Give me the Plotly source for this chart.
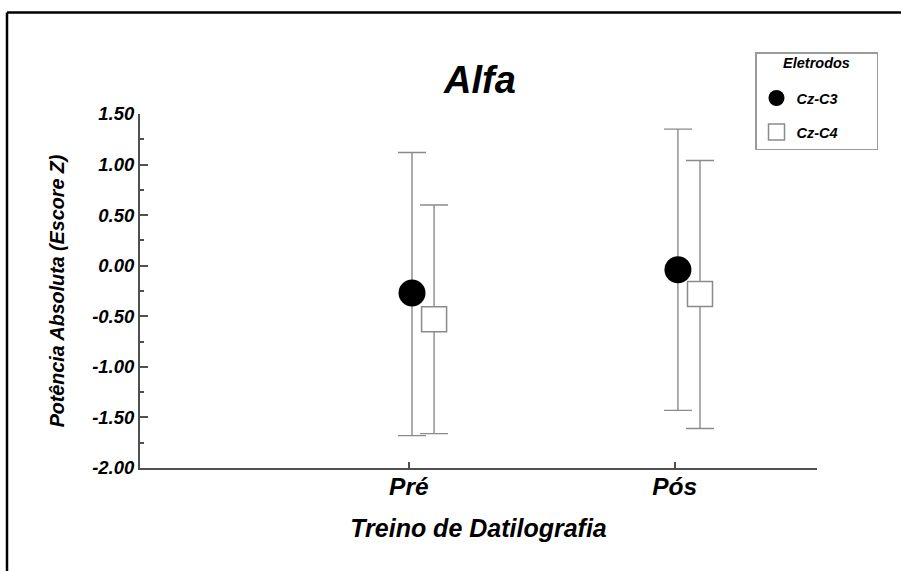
import plotly.graph_objects as go

# ---- data ----
categories = ["Pré", "Pós"]
series_names = ["Cz-C3", "Cz-C4"]
c3_mean = [-0.27, -0.04]
c3_upper = [1.12, 1.35]
c3_lower = [-1.68, -1.43]
c4_mean = [-0.53, -0.28]
c4_upper = [0.60, 1.04]
c4_lower = [-1.66, -1.61]
y_tick_vals = [1.5, 1.0, 0.5, 0.0, -0.5, -1.0, -1.5, -2.0]
y_tick_text = ["1.50", "1.00", "0.50", "0.00", "-0.50", "-1.00", "-1.50", "-2.00"]

W, H = 901, 571
ML, MR, MT, MB = 140, 84, 114, 103
FONT = "Liberation Sans, Arial, Helvetica, sans-serif"
GRAY = "#8a8a8a"
AXIS = "#505050"

cat_pos = [i + 1 for i in range(len(categories))]
off_c3, off_c4 = 0.012, 0.095

def err(mean, up, lo):
    return [u - m for m, u in zip(mean, up)], [m - l for m, l in zip(mean, lo)]

c3_plus, c3_minus = err(c3_mean, c3_upper, c3_lower)
c4_plus, c4_minus = err(c4_mean, c4_upper, c4_lower)

fig = go.Figure()
fig.add_trace(go.Scatter(
    x=[p + off_c3 for p in cat_pos], y=c3_mean, mode="markers", name=series_names[0],
    legendgroup="a",
    marker=dict(symbol="circle", size=27, color="black", line=dict(width=0)),
    error_y=dict(type="data", array=c3_plus, arrayminus=c3_minus, symmetric=False,
                 color=GRAY, thickness=1.4, width=14),
))
fig.add_trace(go.Scatter(
    x=[p + off_c4 for p in cat_pos], y=c4_mean, mode="markers", name=series_names[1],
    legendgroup="b",
    marker=dict(symbol="square", size=25, color="white", line=dict(width=1.5, color=GRAY)),
    error_y=dict(type="data", array=c4_plus, arrayminus=c4_minus, symmetric=False,
                 color=GRAY, thickness=1.4, width=14),
))

pw = W - ML - MR
ph = H - MT - MB
def px_x(p):
    return (p - ML) / pw
def px_y(p):
    return (H - MB - p) / ph

bi = dict(family=FONT, weight="bold", style="italic", color="black")
nb = "&nbsp;" * 8

frame = dict(color="black", width=2.5)

fig.update_layout(
    width=W, height=H,
    margin=dict(l=ML, r=MR, t=MT, b=MB),
    paper_bgcolor="white", plot_bgcolor="white",
    font=dict(family=FONT, color="black"),
    title=dict(text="Alfa", x=480 / W, xref="container", xanchor="center",
               y=1 - 80 / H, yref="container", yanchor="middle",
               font=dict(size=38, **bi)),
    showlegend=True,
    legend=dict(
        x=px_x(755), y=px_y(52), xanchor="left", yanchor="top",
        bordercolor="#9a9a9a", borderwidth=1.5, bgcolor="white",
        title=dict(text=nb + "<span style='font-size:14.5px'>Eletrodos</span>" + nb + "<br> ",
                   side="top center",
                   font=dict(size=11, **bi)),
        font=dict(size=14.5, **bi),
        tracegroupgap=12,
    ),
    xaxis=dict(
        range=[-0.011, 2.535], tickvals=cat_pos, ticktext=categories,
        ticks="inside", ticklen=6, tickwidth=1.5, tickcolor=AXIS,
        showline=True, linecolor=AXIS, linewidth=2,
        showgrid=False, zeroline=False, ticklabelstandoff=-4,
        tickfont=dict(size=24.5, **bi),
        title=dict(text="Treino de Datilografia", standoff=20,
                   font=dict(size=25, **bi)),
    ),
    yaxis=dict(
        range=[-2.0, 1.5], tickvals=y_tick_vals, ticktext=y_tick_text,
        ticks="inside", ticklen=8, tickwidth=1.5, tickcolor=AXIS,
        minor=dict(dtick=0.25, tick0=0, ticks="inside", ticklen=4, tickwidth=1.5, tickcolor=AXIS),
        showline=True, linecolor=AXIS, linewidth=2,
        showgrid=False, zeroline=False,
        tickfont=dict(size=18.5, **bi),
        title=dict(text="Potência Absoluta (Escore Z)", standoff=22,
                   font=dict(size=19.7, **bi)),
    ),
    shapes=[
        dict(type="line", xref="paper", yref="paper",
             x0=px_x(7), x1=px_x(901), y0=px_y(12.5), y1=px_y(12.5), line=frame, layer="below"),
        dict(type="line", xref="paper", yref="paper",
             x0=px_x(7), x1=px_x(7), y0=px_y(12.5), y1=px_y(571), line=frame, layer="below"),
    ],
)

fig.write_html(
    "out.html", config={"displayModeBar": False},
    post_script="document.body.style.margin='0px';document.body.style.overflow='hidden';"
                "document.documentElement.style.overflow='hidden';",
)
